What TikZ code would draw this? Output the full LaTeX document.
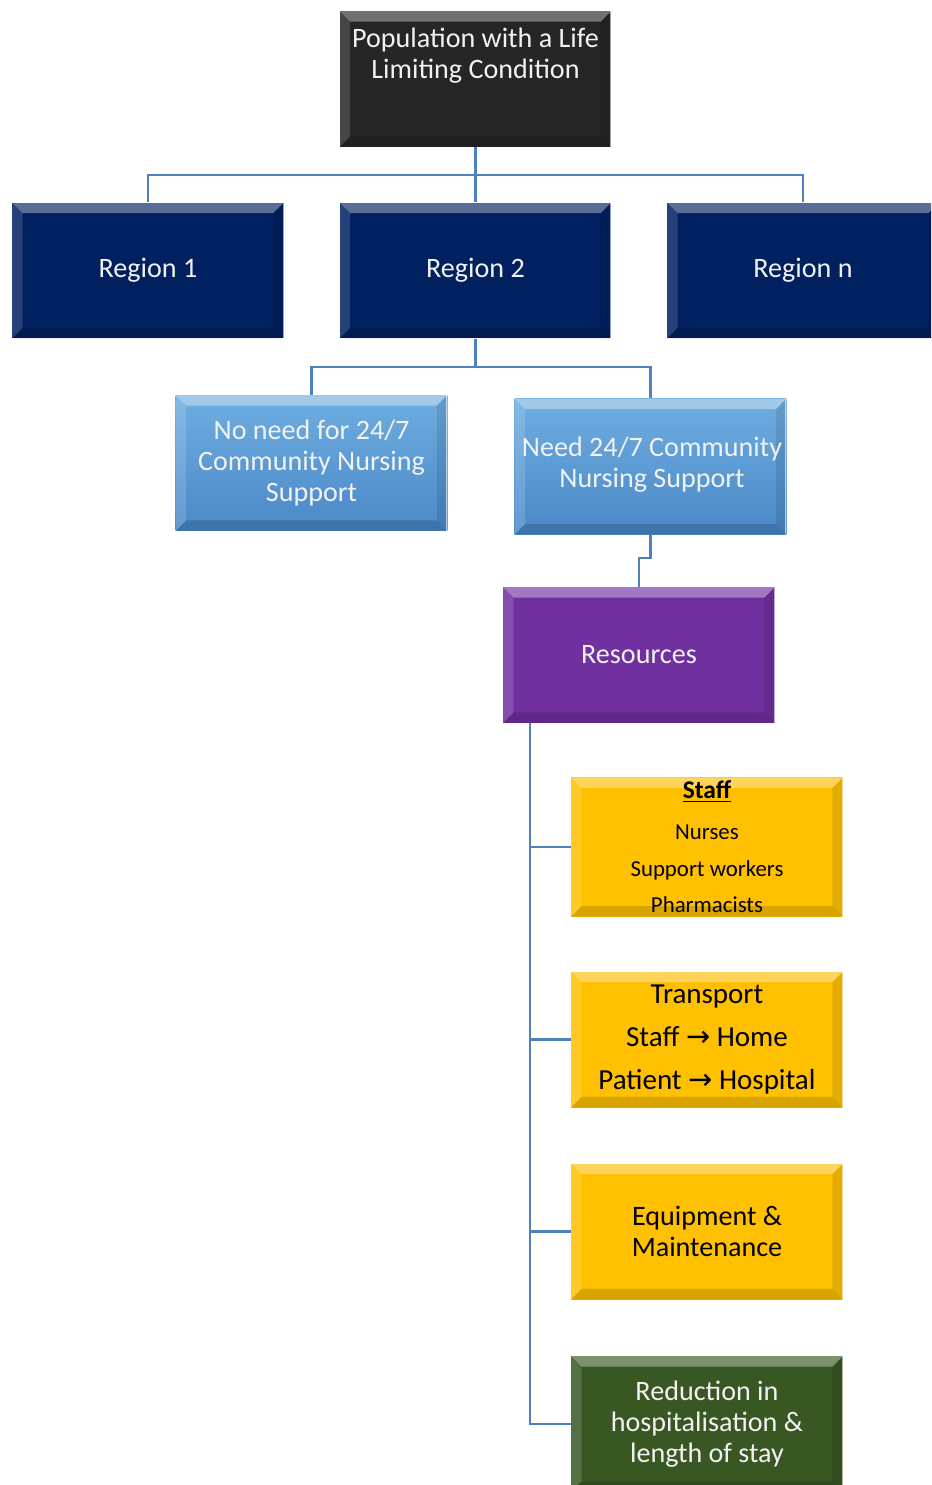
\documentclass[tikz,border=0pt]{standalone}
\usepackage{fontspec}
\setmainfont{Carlito}
\newfontfamily\symfont{DejaVu Sans}
\definecolor{popc}{HTML}{262626}
\definecolor{navy}{HTML}{002060}
\definecolor{lblue}{HTML}{5B9BD5}
\definecolor{lbluetop}{HTML}{6FAEE0}
\definecolor{lbluebot}{HTML}{4A88C8}
\definecolor{purp}{HTML}{7030A0}
\definecolor{yel}{HTML}{FFC000}
\definecolor{grn}{HTML}{385723}
\definecolor{connc}{HTML}{4F81BD}
\definecolor{wtext}{HTML}{F2F2F2}
\tikzset{
  bevel/.style={path picture={
    \path (path picture bounding box.north west) coordinate (bnw)
          (path picture bounding box.south east) coordinate (bse)
          (path picture bounding box.north east) coordinate (bne)
          (path picture bounding box.south west) coordinate (bsw);
    \fill[white,opacity=0.35] (bnw) -- (bne) -- ([shift={(-6pt,-6pt)}]bne) -- ([shift={(6pt,-6pt)}]bnw) -- cycle;
    \fill[white,opacity=0.15] (bnw) -- ([shift={(6pt,-6pt)}]bnw) -- ([shift={(6pt,6pt)}]bsw) -- (bsw) -- cycle;
    \fill[black,opacity=0.15] (bsw) -- ([shift={(6pt,6pt)}]bsw) -- ([shift={(-6pt,6pt)}]bse) -- (bse) -- cycle;
    \fill[black,opacity=0.10] (bne) -- ([shift={(-6pt,-6pt)}]bne) -- ([shift={(-6pt,6pt)}]bse) -- (bse) -- cycle;
    \draw[white,opacity=0.6,line width=1.5pt] (bne) -- (bse);
  }},
  box/.style={rectangle, minimum width=5.44cm, minimum height=2.72cm, inner sep=2pt,
    align=center, bevel, font=\fontsize{16}{17.6}\selectfont},
  darkbox/.style={box, fill=#1, text=wtext},
  bluebox/.style={box, top color=lbluetop, bottom color=lbluebot, text=wtext},
  yelbox/.style={box, fill=yel, text=black},
  conn/.style={draw=connc, line width=1.4pt},
  lbl/.style={align=center, text=wtext, font=\fontsize{16}{17.6}\selectfont}
}
\begin{document}
\begin{tikzpicture}[x=0.02cm,y=-0.02cm]
\useasboundingbox (0,0) rectangle (931,1485);
\clip (0,0) rectangle (931,1485);

% nodes
\node[darkbox=popc] (pop) at (475.5,79) {};
\node[lbl] (popT) at (475.5,56) {Population with a Life\\Limiting Condition};

\node[darkbox=navy] (r1) at (148,270.5) {Region 1};
\node[darkbox=navy] (r2) at (475.5,270.5) {Region 2};
\node[darkbox=navy] (rn) at (803,270.5) {Region n};

\node[bluebox] (nn) at (311.5,463) {No need for 24/7\\Community Nursing\\Support};
\node[bluebox] (need) at (650.5,466.5) {};
\node[lbl] (needT) at (652,465) {Need 24/7 Community\\Nursing Support};

\node[darkbox=purp] (res) at (639,655) {Resources};

\node[yelbox, font=\fontsize{13}{21}\selectfont] (staff) at (707,847)
  {{\fontsize{14.5}{21}\selectfont\textbf{\underline{Staff}}}\\[2pt]Nurses\\Support workers\\Pharmacists};
\node[yelbox, font=\fontsize{16.5}{24.5}\selectfont] (trans) at (707,1039.5)
  {Transport\\Staff {\symfont →} Home\\Patient {\symfont →} Hospital};
\node[yelbox] (equip) at (707,1231.5) {Equipment \&\\Maintenance};
\node[darkbox=grn] (red) at (707,1424) {Reduction in\\hospitalisation \&\\length of stay};

% junctions
\coordinate (j1) at (475.5,175);
\coordinate (j2) at (475.5,367);
\coordinate (rb) at (530,723);

% connectors
\draw[conn] (pop.south) -- (r2.north);
\draw[conn] (r1.north) |- (j1) -| (rn.north);
\draw[conn] (r2.south) -- (j2);
\draw[conn] (j2) -| (nn.north);
\draw[conn] (j2) -| (need.north);
\draw[conn] (need.south) -- ++(0,23) -| (res.north);
\draw[conn] (rb) |- (red.west);
\draw[conn] (rb) |- (staff.west);
\draw[conn] (rb) |- (trans.west);
\draw[conn] (rb) |- (equip.west);
\end{tikzpicture}
\end{document}
